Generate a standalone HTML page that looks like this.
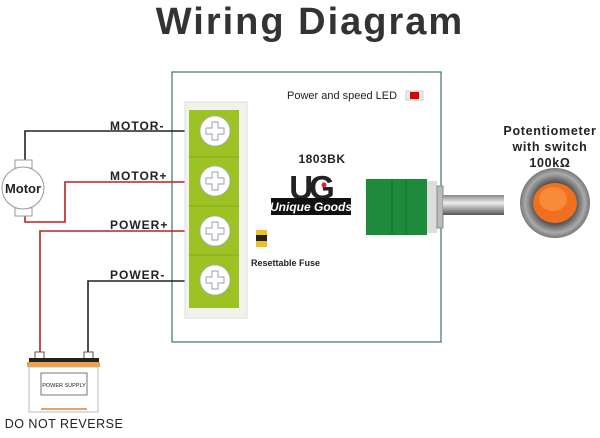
<!DOCTYPE html>
<html><head><meta charset="utf-8"><style>
body{margin:0;background:#fff;}
svg{display:block;font-family:"Liberation Sans",sans-serif;}
</style></head><body>
<svg width="600" height="438" viewBox="0 0 600 438" xmlns="http://www.w3.org/2000/svg">
<text x="310" y="34" text-anchor="middle" font-size="38" font-weight="bold" fill="#333" letter-spacing="2">Wiring Diagram</text>
<!-- board -->
<rect x="172" y="72" width="269" height="270" fill="#fff" stroke="#3d7a4f" stroke-width="1.2"/>
<!-- wires -->
<g fill="none" stroke-width="1.6">
<polyline points="185,131 25,131 25,165" stroke="#222"/>
<polyline points="185,182 65,182 65,222 25,222 25,215" stroke="#b22"/>
<polyline points="185,231 40,231 40,356" stroke="#b22"/>
<polyline points="185,281 88,281 88,356" stroke="#222"/>
</g>
<g font-size="12" font-weight="bold" fill="#222" letter-spacing="1">
<text x="110" y="130">MOTOR-</text>
<text x="110" y="180">MOTOR+</text>
<text x="110" y="229">POWER+</text>
<text x="110" y="279">POWER-</text>
</g>
<!-- motor -->
<rect x="15" y="160" width="17" height="8" fill="#fff" stroke="#999"/>
<rect x="15" y="208" width="17" height="8" fill="#fff" stroke="#999"/>
<circle cx="23" cy="188" r="21" fill="#fff" stroke="#999"/>
<text x="23" y="193" text-anchor="middle" font-size="13" font-weight="bold" fill="#222">Motor</text>
<!-- terminal block -->
<rect x="185" y="102" width="62" height="216" fill="#f2f2ec" stroke="#ddd"/>
<rect x="189" y="110" width="50" height="198" fill="#9cc323"/>
<g stroke="#7fa01a" stroke-width="0.8"><line x1="189" y1="157" x2="239" y2="157"/><line x1="189" y1="206" x2="239" y2="206"/><line x1="189" y1="255" x2="239" y2="255"/></g>
<g fill="#fff" stroke="#aab" stroke-width="0.8">
<circle cx="215" cy="131" r="15"/><circle cx="215" cy="181" r="15"/><circle cx="215" cy="231" r="15"/><circle cx="215" cy="280" r="15"/>
</g>
<g fill="none" stroke="#99a" stroke-width="0.9">
<path d="M212,122h6v6h6v6h-6v6h-6v-6h-6v-6h6z"/>
<path d="M212,172h6v6h6v6h-6v6h-6v-6h-6v-6h6z"/>
<path d="M212,222h6v6h6v6h-6v6h-6v-6h-6v-6h6z"/>
<path d="M212,271h6v6h6v6h-6v6h-6v-6h-6v-6h6z"/>
</g>
<!-- led -->
<text x="287" y="99" font-size="11" fill="#222">Power and speed LED</text>
<rect x="406" y="91" width="17" height="9" fill="#eee" stroke="#ccc"/>
<rect x="410" y="92" width="9" height="7" fill="#d00"/>
<!-- logo -->
<text x="322" y="163" text-anchor="middle" font-size="12" font-weight="bold" fill="#222" letter-spacing="0.5">1803BK</text>
<text x="310" y="199" text-anchor="middle" font-size="33" font-weight="bold" fill="#222" letter-spacing="-4">UG</text>
<circle cx="324" cy="185" r="2.5" fill="#d22"/>
<rect x="271" y="198" width="80" height="17" fill="#111"/>
<text x="311" y="211" text-anchor="middle" font-size="12" font-weight="bold" font-style="italic" fill="#fff">Unique Goods</text>
<!--fuse-->
<rect x="256" y="230" width="11" height="17" fill="#f0c020"/>
<rect x="256" y="235" width="11" height="6" fill="#222"/>
<text x="251" y="266" font-size="9" font-weight="bold" fill="#222">Resettable Fuse</text>
<!-- pot -->
<rect x="366" y="179" width="61" height="56" fill="#1e8a3c"/>
<g stroke="#137030"><line x1="392" y1="179" x2="392" y2="235"/><line x1="406" y1="179" x2="406" y2="235"/></g>
<rect x="427" y="181" width="10" height="52" fill="#ddd"/>
<rect x="437" y="186" width="6" height="42" fill="#bbb" stroke="#888"/>
<defs><linearGradient id="sh" x1="0" y1="0" x2="0" y2="1"><stop offset="0" stop-color="#888"/><stop offset="0.4" stop-color="#eee"/><stop offset="1" stop-color="#555"/></linearGradient>
<radialGradient id="kn"><stop offset="0.6" stop-color="#555"/><stop offset="0.85" stop-color="#aaa"/><stop offset="1" stop-color="#777"/></radialGradient></defs>
<rect x="443" y="195" width="61" height="20" fill="url(#sh)"/>
<circle cx="555" cy="203" r="35" fill="url(#kn)"/>
<ellipse cx="555" cy="203" rx="22" ry="20" fill="#f07020"/>
<ellipse cx="553" cy="199" rx="14" ry="12" fill="#f88a3a"/>
<g font-size="12.5" font-weight="bold" fill="#222" text-anchor="middle" letter-spacing="0.7">
<text x="550" y="135">Potentiometer</text><text x="550" y="151">with switch</text><text x="550" y="167">100kΩ</text></g>
<!-- battery -->
<rect x="35" y="352" width="9" height="8" fill="#fff" stroke="#555"/>
<rect x="84" y="352" width="9" height="8" fill="#fff" stroke="#555"/>
<rect x="29" y="358" width="70" height="5" fill="#222"/>
<rect x="27" y="362" width="73" height="5" fill="#f0a040"/>
<rect x="29" y="367" width="69" height="45" fill="#fff" stroke="#bbb"/>
<rect x="41" y="373" width="46" height="22" fill="#fff" stroke="#777"/>
<text x="64" y="387" text-anchor="middle" font-size="5.5" fill="#222">POWER SUPPLY</text>
<rect x="41" y="408" width="46" height="2" fill="#e8a070"/>
<text x="64" y="428" text-anchor="middle" font-size="12.5" fill="#222" letter-spacing="0.5">DO NOT REVERSE</text>
</svg>
</body></html>
